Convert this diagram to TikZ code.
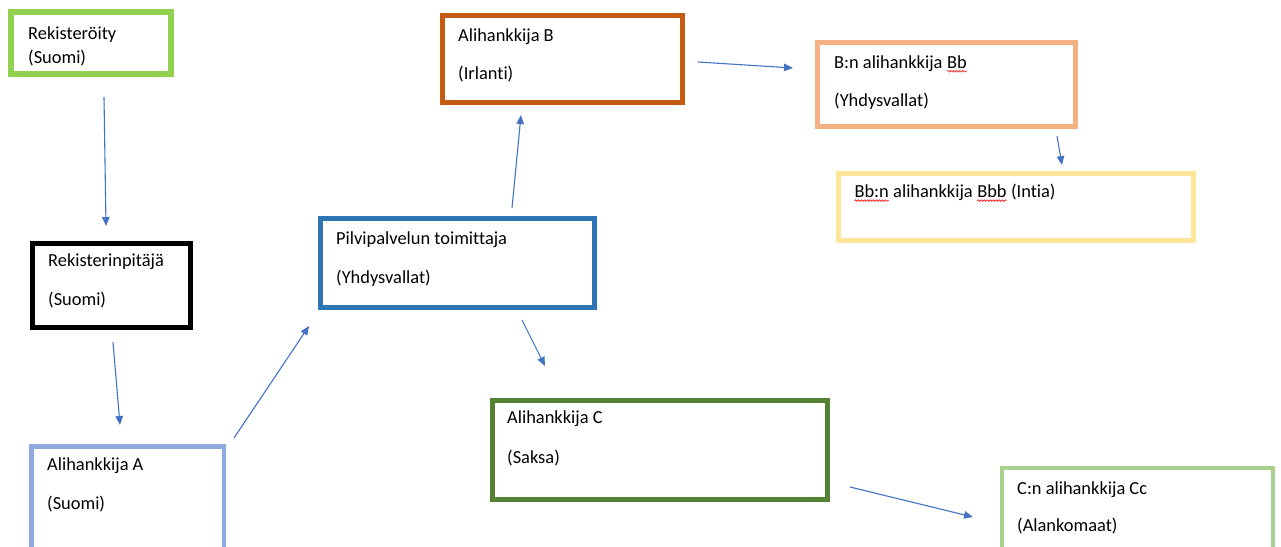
\documentclass[tikz,border=0pt]{standalone}
\usepackage{fontspec}
\setmainfont{Carlito}[Ligatures=NoCommon]
\usetikzlibrary{arrows.meta,decorations.pathmorphing}
\definecolor{cRek}{HTML}{92D050}
\definecolor{cA}{HTML}{8FAADC}
\definecolor{cP}{HTML}{2E75B6}
\definecolor{cB}{HTML}{C55A11}
\definecolor{cBb}{HTML}{F4B183}
\definecolor{cBbb}{HTML}{FFE699}
\definecolor{cC}{HTML}{548235}
\definecolor{cCc}{HTML}{A9D18E}
\definecolor{cArr}{HTML}{4472C4}
\newcommand\wavyword[1]{\tikz[baseline=(wv.base)]{\node[inner sep=0pt, outer sep=0pt] (wv) {#1};
  \draw[red, line width=0.6pt, decorate, decoration={snake, amplitude=0.8pt, segment length=3pt}]
   ([yshift=-2.8pt]wv.base west) -- ([yshift=-2.8pt]wv.base east);}}
\tikzset{
  box/.style={draw, rectangle, inner sep=0pt, fill=white},
  txt/.style={anchor=west, inner sep=0pt, font=\fontsize{18.4}{21}\selectfont},
  arr/.style={draw=cArr, line width=1.1pt, -{Triangle[length=9pt,width=7.5pt]}}
}
\begin{document}
\begin{tikzpicture}[x=1pt,y=-1pt]
\useasboundingbox (0,0) rectangle (1281,546);
\clip (0,0) rectangle (1281,546);
\fill[white] (0,0) rectangle (1281,546);
% boxes
\node[box, draw=cRek, line width=6pt, minimum width=160pt, minimum height=61.5pt] (rek) at (91,42.75) {};
\node[box, draw=black, line width=5pt, minimum width=157.5pt, minimum height=84pt] (rp) at (111.25,285.5) {};
\node[box, draw=cA, line width=4.5pt, minimum width=192.7pt, minimum height=153.5pt] (A) at (127.7,523.25) {};
\node[box, draw=cP, line width=5pt, minimum width=274pt, minimum height=89.2pt] (P) at (457,262.9) {};
\node[box, draw=cB, line width=5pt, minimum width=240.3pt, minimum height=87.8pt] (B) at (562.65,58.9) {};
\node[box, draw=cBb, line width=5pt, minimum width=257.4pt, minimum height=84.1pt] (Bb) at (946.5,84.75) {};
\node[box, draw=cBbb, line width=5pt, minimum width=354.9pt, minimum height=67.6pt] (Bbb) at (1015.75,207) {};
\node[box, draw=cC, line width=5pt, minimum width=334.5pt, minimum height=98.5pt] (C) at (659.75,449.75) {};
\node[box, draw=cCc, line width=4pt, minimum width=271pt, minimum height=132pt] (Cc) at (1137.5,534) {};
% texts
\node[txt] (t1a) at (28,35) {Rekisteröity};
\node[txt] (t1b) at (28,58) {(Suomi)};
\node[txt] (t2a) at (48,262) {Rekisterinpitäjä};
\node[txt] (t2b) at (48,300) {(Suomi)};
\node[txt] (t3a) at (47,466) {Alihankkija A};
\node[txt] (t3b) at (47,504) {(Suomi)};
\node[txt] (t4a) at (336,240) {Pilvipalvelun toimittaja};
\node[txt] (t4b) at (336,278) {(Yhdysvallat)};
\node[txt] (t5a) at (458,37) {Alihankkija B};
\node[txt] (t5b) at (458,74) {(Irlanti)};
\node[txt] (t6a) at (834,64) {B:n alihankkija \wavyword{Bb}};
\node[txt] (t6b) at (834,101) {(Yhdysvallat)};
\node[txt] (t7a) at (854,193) {\wavyword{Bb:n} alihankkija \wavyword{Bbb} (Intia)};
\node[txt] (t8a) at (507,419) {Alihankkija C};
\node[txt] (t8b) at (507,458) {(Saksa)};
\node[txt] (t9a) at (1017,490) {C:n alihankkija Cc};
\node[txt] (t9b) at (1017,526) {(Alankomaat)};
% arrows
\draw[arr] ([shift={(13,54.25)}]rek.center) -- ([shift={(-5.25,-59.5)}]rp.center);
\draw[arr] ([shift={(1.75,56.5)}]rp.center) -- ([shift={(-7.7,-98.25)}]A.center);
\draw[arr] ([shift={(106.3,-85.25)}]A.center) -- ([shift={(-148,63.1)}]P.center);
\draw[arr] ([shift={(55,-54.9)}]P.center) -- ([shift={(-41.65,56.1)}]B.center);
\draw[arr] ([shift={(65,57.1)}]P.center) -- ([shift={(-114.75,-83.75)}]C.center);
\draw[arr] ([shift={(135.35,3.1)}]B.center) -- ([shift={(-153.5,-16.75)}]Bb.center);
\draw[arr] ([shift={(110.5,51.25)}]Bb.center) -- ([shift={(46.25,-42)}]Bbb.center);
\draw[arr] ([shift={(190.25,37.25)}]C.center) -- ([shift={(-164.5,-17)}]Cc.center);
\end{tikzpicture}
\end{document}
